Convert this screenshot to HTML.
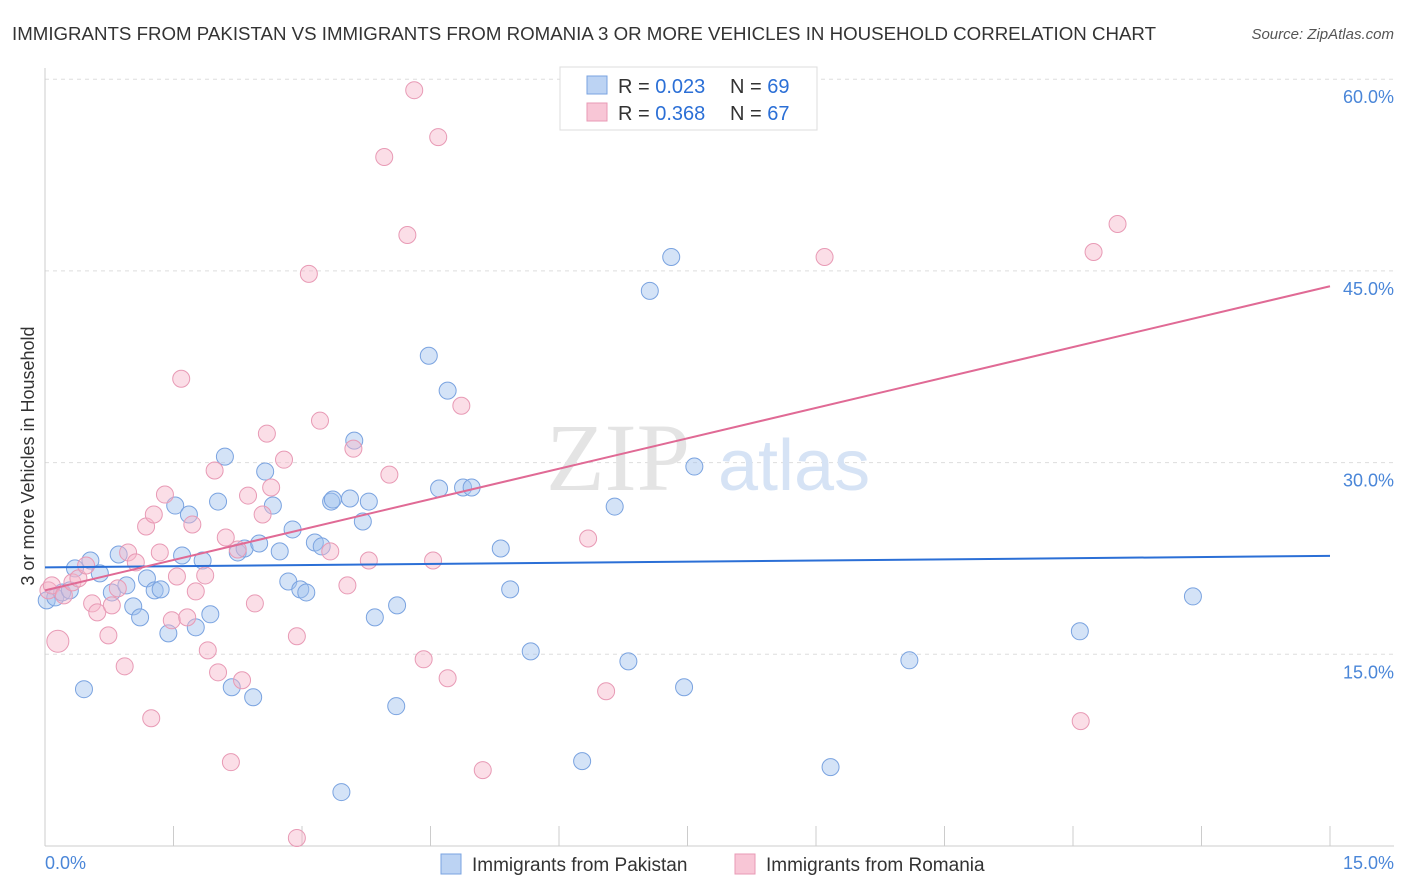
<!DOCTYPE html>
<html><head><meta charset="utf-8"><style>
body{margin:0;background:#fff;font-family:"Liberation Sans",sans-serif;}
svg{display:block}
</style></head><body>
<svg width="1406" height="892" xmlns="http://www.w3.org/2000/svg">
<text x="12" y="40" font-size="18" fill="#333" textLength="1144" lengthAdjust="spacingAndGlyphs">IMMIGRANTS FROM PAKISTAN VS IMMIGRANTS FROM ROMANIA 3 OR MORE VEHICLES IN HOUSEHOLD CORRELATION CHART</text>
<text x="1394" y="39" font-size="15" fill="#555" font-style="italic" text-anchor="end">Source: ZipAtlas.com</text>
<g id="grid"></g>
<text x="690" y="490" font-size="96" fill="#e4e4e4" font-family="Liberation Serif,serif" text-anchor="end">ZIP</text>
<text x="718" y="490" font-size="72" fill="#d6e3f5">atlas</text>
<g id="pts"></g>
<g id="lines"></g>
<text transform="translate(34,456) rotate(-90)" font-size="18" fill="#333" text-anchor="middle">3 or more Vehicles in Household</text>
<text x="45" y="869" font-size="18" fill="#4a86d8">0.0%</text>
<text x="1394" y="869" font-size="18" fill="#4a86d8" text-anchor="end">15.0%</text>
<g>
<rect x="560" y="67" width="257" height="63" fill="#fff" stroke="#ddd"/>
<rect x="587" y="76" width="20" height="18" fill="#bcd3f3" stroke="#7aa3e0"/>
<rect x="587" y="103" width="20" height="18" fill="#f8c6d6" stroke="#e89ab5"/>
<text x="618" y="93" font-size="20" fill="#333">R = <tspan fill="#2b6fd6">0.023</tspan></text>
<text x="730" y="93" font-size="20" fill="#333">N = <tspan fill="#2b6fd6">69</tspan></text>
<text x="618" y="120" font-size="20" fill="#333">R = <tspan fill="#2b6fd6">0.368</tspan></text>
<text x="730" y="120" font-size="20" fill="#333">N = <tspan fill="#2b6fd6">67</tspan></text>
</g>
<g>
<rect x="441" y="854" width="20" height="20" fill="#bcd3f3" stroke="#7aa3e0"/>
<text x="472" y="871" font-size="19" fill="#333">Immigrants from Pakistan</text>
<rect x="735" y="854" width="20" height="20" fill="#f8c6d6" stroke="#e89ab5"/>
<text x="766" y="871" font-size="19" fill="#333">Immigrants from Romania</text>
</g>
</svg>
<script>
const yTicks=[15,30,45,60];
const yTickLabels=["15.0%","30.0%","45.0%","60.0%"];
const xTicks=[0,1.5,3,4.5,6,7.5,9,10.5,12,13.5,15];
const blueX=[0.455,0.02,0.12,0.20,0.29,0.35,0.53,0.64,0.78,0.86,0.95,1.03,1.11,1.19,1.28,1.35,1.44,1.52,1.60,1.68,1.76,1.84,1.93,2.02,2.10,2.18,2.25,2.33,2.43,2.50,2.57,2.66,2.74,2.84,2.89,2.98,3.05,3.15,3.23,3.34,3.36,3.46,3.56,3.61,3.71,3.78,3.85,4.10,4.11,4.48,4.60,4.70,4.88,4.98,5.32,5.43,5.67,6.27,6.65,6.81,7.06,7.31,7.46,7.58,9.17,10.09,12.08,13.40];
const blueY=[12.27,19.22,19.45,19.84,20.0,21.72,22.34,21.33,19.84,22.81,20.39,18.75,17.89,20.94,20.0,20.08,16.64,26.64,22.73,25.94,17.11,22.34,18.13,26.95,30.47,12.42,22.97,23.28,11.64,23.67,29.30,26.64,23.05,20.70,24.77,20.08,19.84,23.75,23.44,26.95,27.11,4.22,27.19,31.72,25.39,26.95,17.89,10.94,18.83,38.36,27.97,35.63,28.05,28.05,23.28,20.08,15.23,6.64,26.56,14.45,43.44,46.09,12.42,29.69,6.17,14.53,16.80,19.53];
const pinkX=[0.15,0.04,0.08,0.22,0.32,0.39,0.48,0.55,0.61,0.74,0.78,0.85,0.93,0.97,1.06,1.18,1.24,1.27,1.34,1.40,1.48,1.54,1.59,1.66,1.72,1.76,1.87,1.90,1.98,2.02,2.11,2.17,2.25,2.30,2.37,2.45,2.54,2.59,2.64,2.79,2.94,2.94,3.08,3.21,3.33,3.53,3.60,3.78,3.96,4.02,4.23,4.31,4.42,4.53,4.59,4.70,4.86,5.11,6.34,6.55,9.10,12.09,12.24,12.52];
const pinkY=[16.02,20.0,20.39,19.61,20.63,20.94,21.95,18.98,18.28,16.48,18.83,20.16,14.06,22.97,22.19,25.0,10.0,25.94,22.97,27.5,17.66,21.09,36.56,17.89,25.16,19.92,21.17,15.31,29.38,13.59,24.14,6.56,23.20,12.97,27.42,18.98,25.94,32.27,28.05,30.23,16.41,0.63,44.77,33.28,23.05,20.39,31.09,22.34,53.91,29.06,47.81,59.14,14.61,22.34,55.47,13.13,34.45,5.94,24.06,12.11,46.09,9.77,46.48,48.67];
const blueLine=[21.8,22.7];
const pinkLine=[20.0,43.8];
const xs=v=>45+v*(1330-45)/15;
const ys=v=>846-v*12.78;
const NS="http://www.w3.org/2000/svg";
function mk(t,a,p){const e=document.createElementNS(NS,t);for(const k in a)e.setAttribute(k,a[k]);p.appendChild(e);return e;}
const g=document.getElementById('grid');
yTicks.forEach((v,i)=>{
 const l=mk('line',{x1:45,x2:1394,y1:ys(v),y2:ys(v),stroke:'#ddd','stroke-dasharray':'4,4'},g);
 
 
 const t=mk('text',{x:1394,y:ys(v)+24,'font-size':18,fill:'#4a86d8','text-anchor':'end'},g);
 t.textContent=yTickLabels[i];
 
 
});
const ax=mk('line',{x1:45,x2:1394,y1:846,y2:846,stroke:'#ccc'},g);


const ay=mk('line',{x1:45,x2:45,y1:68,y2:846,stroke:'#ccc'},g);


xTicks.forEach(v=>{
 const t=mk('line',{x1:xs(v),x2:xs(v),y1:826,y2:846,stroke:'#ccc'},g);
 
 
});
const pg=document.getElementById('pts');
blueX.forEach((v,i)=>{
 const c=mk('circle',{cx:xs(v),cy:ys(blueY[i]),r:8.5,fill:'rgba(160,192,238,0.45)',stroke:'#7aa3e0','stroke-width':1},pg);
 
 
});
pinkX.forEach((v,i)=>{
 const c=mk('circle',{cx:xs(v),cy:ys(pinkY[i]),r:i===0?11:8.5,fill:'rgba(246,182,202,0.45)',stroke:'#e89ab5','stroke-width':1},pg);
 
 
});
const lg=document.getElementById('lines');
const bl=mk('line',{x1:xs(0),y1:ys(blueLine[0]),x2:xs(15),y2:ys(blueLine[1]),stroke:'#2b6fd6','stroke-width':2},lg);


const pl=mk('line',{x1:xs(0),y1:ys(pinkLine[0]),x2:xs(15),y2:ys(pinkLine[1]),stroke:'#e06a95','stroke-width':2},lg);


</script>
</body></html>
